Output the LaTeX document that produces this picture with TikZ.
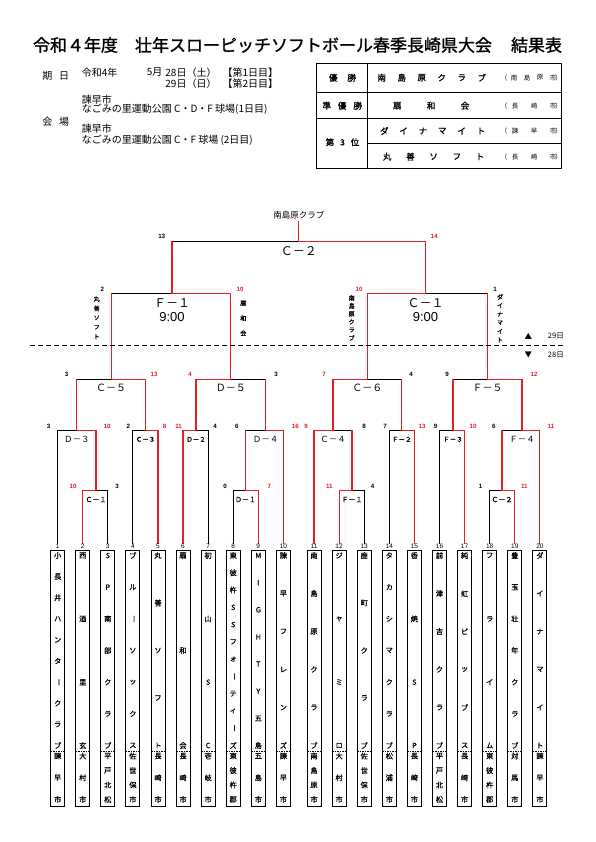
\documentclass[tikz,border=0pt]{standalone}
\usepackage{fontspec}
\setmainfont{Noto Sans CJK JP}
\newfontfamily\lat{Liberation Sans}
\newfontfamily\jpb[FakeBold=1.2]{Noto Sans CJK JP}
\newfontfamily\jpm[FakeBold=0.8]{Noto Sans CJK JP}
\definecolor{rd}{RGB}{226,30,38}
\newcommand\VL{\rotatebox[origin=c]{-90}{ー}}
\newcommand\fs[1]{\fontsize{#1}{#1}\selectfont}
% horizontal spread: name, y, x1, x2, n, list, style
\newcommand\hsp[7]{\foreach \ch [count=\k] in {#6} {\node[#7] (#1\k) at ({#3+(\k-1)*(#4-#3)/(#5-1)},#2) {\ch};}}
% vertical spread: name, x, y1, y2, n, list, style
\newcommand\vsp[7]{\foreach \ch [count=\k] in {#6} {\node[#7] (#1\k) at (#2,{#3+(\k-1)*(#4-#3)/(#5-1)}) {\ch};}}
\newcommand\team[6]{%
  \node[teambox] (b#1) at (#2,678) {};
  \node[tnum] (n#1) at (#2,546.6) {#1};
  \draw[cityline] ({#2-7},751) -- ({#2+7},751);
  \vsp{b#1n}{#2}{555.5}{745.5}{#4}{#3}{nm}
  \vsp{b#1c}{#2}{756}{799.5}{#6}{#5}{nm}
}
\tikzset{
  lose/.style={draw=black, line width=1.1pt, line cap=rect},
  win/.style={draw=rd, line width=1.1pt, line cap=rect, line join=miter},
  sc/.style={font=\lat\bfseries\fs{6.2}, inner sep=0pt},
  scw/.style={sc, text=rd},
  tnum/.style={font=\lat\fs{6.5}, inner sep=0pt},
  nm/.style={font=\jpm\fs{7.2}, inner sep=0pt},
  teambox/.style={draw, line width=1pt, minimum width=14pt, minimum height=256pt, inner sep=0pt},
  cityline/.style={line width=0.5pt, dash pattern=on 1.5pt off 1pt},
  hd/.style={font=\fs{10}, inner sep=0pt},
  tb/.style={font=\jpb\fs{8.5}, inner sep=0pt},
  tc/.style={font=\fs{6.5}, inner sep=0pt},
  sv/.style={font=\jpb\fs{6}, inner sep=0pt},
  lbA/.style={font=\fs{12}, inner sep=0pt},
  lbT/.style={font=\lat\fs{13}, inner sep=0pt},
  lbB/.style={font=\fs{10}, inner sep=0pt},
  lbC/.style={font=\fs{8.5}, inner sep=0pt},
  lbD/.style={font=\jpb\fs{6.5}, inner sep=0pt},
  lbE/.style={font=\jpb\fs{7}, inner sep=0pt},
}
\begin{document}
\begin{tikzpicture}[x=1pt,y=-1pt]
\useasboundingbox (0,0) rectangle (595,842);
\fill[white] (0,0) rectangle (595,842);

% ---------- title ----------
\node[font=\jpb\fs{17}, inner sep=0pt] (title) at (297.5,45) {令和４年度\hspace{17pt}壮年スローピッチソフトボール春季長崎県大会\hspace{19pt}結果表};

% ---------- header left ----------
\node[hd] (ki) at (47.3,75.7) {期};
\node[hd] (bi) at (64,75.7) {日};
\node[hd,anchor=west] (d1a) at (81.7,72.3) {令和4年};
\node[hd,anchor=west] (d1b) at (146.7,72.3) {5月};
\node[hd,anchor=east] (d1c) at (216.7,72.3) {28日（土）};
\node[hd,anchor=east] (d1d) at (278.3,72.3) {【第1日目】};
\node[hd,anchor=east] (d2c) at (216.7,83.3) {29日（日）};
\node[hd,anchor=east] (d2d) at (278.3,83.3) {【第2日目】};
\node[hd,anchor=west] (v1) at (81.7,99.7) {諫早市};
\node[hd,anchor=west] (v2) at (81.7,109.3) {なごみの里運動公園 C・D・F 球場(1日目)};
\node[hd] (kai) at (47.3,121.7) {会};
\node[hd] (jo) at (64,121.7) {場};
\node[hd,anchor=west] (v3) at (81.7,129) {諫早市};
\node[hd,anchor=west] (v4) at (81.7,140) {なごみの里運動公園 C・F 球場 (2日目)};

% ---------- result table ----------
\draw[line width=1.4pt] (316.7,63.3) rectangle (561.7,168.3);
\draw[line width=1pt] (367.3,63.3) -- (367.3,168.3);
\draw[line width=1pt] (316.7,92.7) -- (561.7,92.7);
\draw[line width=1pt] (316.7,118.3) -- (561.7,118.3);
\draw[line width=1pt] (367.3,143.3) -- (561.7,143.3);
\hsp{ra}{77.7}{333.3}{351.7}{2}{優,勝}{tb}
\hsp{rb}{105.7}{326.7}{357.7}{3}{準,優,勝}{tb}
\hsp{rc}{142.3}{330}{355}{3}{第,3,位}{tb}
\hsp{wa}{77.7}{381.7}{481.7}{6}{南,島,原,ク,ラ,ブ}{tb}
\hsp{wb}{105.7}{397.3}{465}{3}{扇,和,会}{tb}
\hsp{wc}{131}{384.3}{481}{6}{ダ,イ,ナ,マ,イ,ト}{tb}
\hsp{wd}{156.7}{387.3}{480}{5}{丸,善,ソ,フ,ト}{tb}
\foreach \yy/\nn in {77.7/a,105.7/b,131/c,156.7/d}{
  \node[tc] (pl\nn) at (504,\yy) {（};
  \node[tc] (pr\nn) at (558.5,\yy) {）};
}
\hsp{ca}{77.7}{514}{553}{4}{南,島,原,市}{tc}
\hsp{cb}{105.7}{515}{553}{3}{長,崎,市}{tc}
\hsp{cc}{131}{515}{553}{3}{諫,早,市}{tc}
\hsp{cd}{156.7}{515}{553}{3}{長,崎,市}{tc}

% ---------- bracket: losing (black) segments ----------
\foreach \xx in {107.8,233.2,364.2,489.7}{\draw[lose] (\xx,543) -- (\xx,490.7);}
\foreach \xx in {57.7,132.9,208.1,389.3,439.5}{\draw[lose] (\xx,543) -- (\xx,430.7);}
\draw[lose] (96,490.7) -- (107.8,490.7);
\draw[lose] (233.2,490.7) -- (245.5,490.7);
\draw[lose] (352,490.7) -- (364.2,490.7);
\draw[lose] (489.7,490.7) -- (502,490.7);
\draw[lose] (57.7,430.7) -- (76.8,430.7);
\draw[lose] (132.9,430.7) -- (145.5,430.7);
\draw[lose] (196,430.7) -- (208.1,430.7);
\draw[lose] (245.5,430.7) -- (265.5,430.7);
\draw[lose] (333,430.7) -- (352,430.7);
\draw[lose] (389.3,430.7) -- (401.8,430.7);
\draw[lose] (439.5,430.7) -- (453,430.7);
\draw[lose] (502,430.7) -- (522,430.7);
\draw[lose] (76.8,379.3) -- (111.2,379.3);
\draw[lose] (230.8,379.3) -- (265.5,379.3);
\draw[lose] (367.4,379.3) -- (401.8,379.3);
\draw[lose] (453,379.3) -- (487.5,379.3);
\draw[lose] (111.2,293.3) -- (172,293.3);
\draw[lose] (425.5,293.3) -- (487.5,293.3);
\draw[lose] (172,241.7) -- (298.75,241.7);

% ---------- bracket: winning (red) paths ----------
\draw[win] (82.8,543) -- (82.8,490.7) -- (96,490.7) -- (96,430.7) -- (76.8,430.7) -- (76.8,379.3);
\draw[win] (158,543) -- (158,430.7) -- (145.5,430.7) -- (145.5,379.3) -- (111.2,379.3) -- (111.2,293.3);
\draw[win] (183,543) -- (183,430.7) -- (196,430.7) -- (196,379.3) -- (230.8,379.3) -- (230.8,293.3) -- (172,293.3) -- (172,241.7);
\draw[win] (258.3,543) -- (258.3,490.7) -- (245.5,490.7) -- (245.5,430.7);
\draw[win] (283.4,543) -- (283.4,430.7) -- (265.5,430.7) -- (265.5,379.3);
\draw[win] (314,543) -- (314,430.7) -- (333,430.7) -- (333,379.3) -- (367.4,379.3) -- (367.4,293.3) -- (425.5,293.3) -- (425.5,241.7) -- (298.75,241.7) -- (298.75,222);
\draw[win] (339.1,543) -- (339.1,490.7) -- (352,490.7) -- (352,430.7);
\draw[win] (414.4,543) -- (414.4,430.7) -- (401.8,430.7) -- (401.8,379.3);
\draw[win] (464.6,543) -- (464.6,430.7) -- (453,430.7) -- (453,379.3);
\draw[win] (514.8,543) -- (514.8,490.7) -- (502,490.7) -- (502,430.7);
\draw[win] (539.9,543) -- (539.9,430.7) -- (522,430.7) -- (522,379.3) -- (487.5,379.3) -- (487.5,293.3);

% ---------- day divider ----------
\coordinate (dl1) at (30,345.7);
\coordinate (dl2) at (565,345.7);
\draw[line width=1.2pt, dash pattern=on 5pt off 3pt] (dl1) -- (dl2);
\node[font=\fs{7.5}, inner sep=0pt] (up) at (528.3,336) {▲};
\node[font=\fs{7.5}, inner sep=0pt, anchor=east] (d29) at (564,336) {29日};
\node[font=\fs{7.5}, inner sep=0pt] (dn) at (528.3,354.5) {▼};
\node[font=\fs{7.5}, inner sep=0pt, anchor=east] (d28) at (564,354.5) {28日};

% ---------- champion ----------
\node[font=\fs{8.5}, inner sep=0pt] (champ) at (298.75,215) {南島原クラブ};

% ---------- match labels ----------
\node[lbA] (gC2) at (298.75,251) {Ｃ－２};
\node[lbA] (gF1) at (172,302.7) {Ｆ－１};
\node[lbT] (tF1) at (172,317.3) {9:00};
\node[lbA] (gC1) at (425.5,302.7) {Ｃ－１};
\node[lbT] (tC1) at (425.5,317.3) {9:00};
\node[lbB] (gC5) at (111.2,388) {Ｃ－５};
\node[lbB] (gD5) at (230.8,388) {Ｄ－５};
\node[lbB] (gC6) at (367.4,388) {Ｃ－６};
\node[lbB] (gF5) at (487.5,388) {Ｆ－５};
\node[lbC] (gD3) at (76.8,439.3) {Ｄ－３};
\node[lbD] (gC3) at (145.5,439.3) {Ｃ－３};
\node[lbD] (gD2) at (196,439.3) {Ｄ－２};
\node[lbC] (gD4) at (265.5,439.3) {Ｄ－４};
\node[lbC] (gC4) at (333,439.3) {Ｃ－４};
\node[lbD] (gF2) at (401.8,439.3) {Ｆ－２};
\node[lbD] (gF3) at (453,439.3) {Ｆ－３};
\node[lbC] (gF4) at (522,439.3) {Ｆ－４};
\node[lbE] (gC1b) at (96,499.5) {Ｃ－１};
\node[lbE] (gD1b) at (245.5,499.5) {Ｄ－１};
\node[lbE] (gF1b) at (352,499.5) {Ｆ－１};
\node[lbE] (gC2b) at (502,499.5) {Ｃ－２};

% ---------- side labels (semi-final entrants) ----------
\vsp{sa}{96.7}{299}{336.7}{5}{丸,善,ソ,フ,ト}{sv}
\vsp{sb}{243.3}{303.3}{333.3}{3}{扇,和,会}{sv}
\vsp{sc}{351.7}{298}{338}{6}{南,島,原,ク,ラ,ブ}{sv}
\vsp{sd}{500}{297}{340}{6}{ダ,イ,ナ,マ,イ,ト}{sv}

% ---------- scores ----------
\node[sc]  (s1)  at (161.7,236.7) {13};
\node[scw] (s2)  at (434,236.7) {14};
\node[sc]  (s3)  at (102.3,289.3) {2};
\node[scw] (s4)  at (240,289.3) {10};
\node[scw] (s5)  at (359,289.3) {10};
\node[sc]  (s6)  at (495,289.3) {1};
\node[sc]  (s7)  at (66.7,374.3) {3};
\node[scw] (s8)  at (154,374.3) {13};
\node[scw] (s9)  at (190,374.3) {4};
\node[sc]  (s10) at (276,374.3) {3};
\node[scw] (s11) at (324,374.3) {7};
\node[sc]  (s12) at (411,374.3) {4};
\node[sc]  (s13) at (447,374.3) {9};
\node[scw] (s14) at (534,374.3) {12};
\node[sc]  (s15) at (48.7,426.7) {3};
\node[scw] (s16) at (107.2,426.7) {10};
\node[sc]  (s17) at (128.4,426.7) {2};
\node[scw] (s18) at (164.7,426.7) {8};
\node[scw] (s19) at (178.6,426.7) {11};
\node[sc]  (s20) at (215,426.7) {4};
\node[sc]  (s21) at (236.8,426.7) {6};
\node[scw] (s22) at (295.3,426.7) {16};
\node[scw] (s23) at (306,426.7) {9};
\node[sc]  (s24) at (364,426.7) {8};
\node[sc]  (s25) at (385,426.7) {7};
\node[scw] (s26) at (422,426.7) {13};
\node[sc]  (s27) at (435.6,426.7) {9};
\node[scw] (s28) at (473,426.7) {10};
\node[sc]  (s29) at (493.8,426.7) {6};
\node[scw] (s30) at (551,426.7) {11};
\node[scw] (s31) at (73,486) {10};
\node[sc]  (s32) at (117,486) {3};
\node[sc]  (s33) at (225,486) {0};
\node[scw] (s34) at (269.3,486) {7};
\node[scw] (s35) at (329.3,486) {11};
\node[sc]  (s36) at (372.7,486) {4};
\node[sc]  (s37) at (480.7,486) {1};
\node[scw] (s38) at (524.3,486) {11};

% ---------- team boxes ----------
\team{1}{57.7}{小,長,井,ハ,ン,タ,\VL,ク,ラ,ブ}{10}{諫,早,市}{3}
\team{2}{82.8}{西,酒,里,玄}{4}{大,村,市}{3}
\team{3}{107.8}{S,P,南,部,ク,ラ,ブ}{7}{平,戸,北,松}{4}
\team{4}{132.9}{ブ,ル,\VL,ソ,ッ,ク,ス}{7}{佐,世,保,市}{4}
\team{5}{158.0}{丸,善,ソ,フ,ト}{5}{長,崎,市}{3}
\team{6}{183.0}{扇,和,会}{3}{長,崎,市}{3}
\team{7}{208.1}{初,山,S,C}{4}{壱,岐,市}{3}
\team{8}{233.2}{東,彼,杵,S,S,フ,ォ,\VL,テ,ィ,\VL,ズ}{12}{東,彼,杵,郡}{4}
\team{9}{258.3}{M,I,G,H,T,Y,五,島}{8}{五,島,市}{3}
\team{10}{283.4}{諫,早,フ,レ,ン,ズ}{6}{諫,早,市}{3}
\team{11}{314.0}{南,島,原,ク,ラ,ブ}{6}{南,島,原,市}{4}
\team{12}{339.1}{ジ,ャ,ミ,ロ}{4}{大,村,市}{3}
\team{13}{364.2}{鹿,町,ク,ラ,ブ}{5}{佐,世,保,市}{4}
\team{14}{389.3}{タ,カ,シ,マ,ク,ラ,ブ}{7}{松,浦,市}{3}
\team{15}{414.4}{香,焼,S,P}{4}{長,崎,市}{3}
\team{16}{439.5}{前,津,吉,ク,ラ,ブ}{6}{平,戸,北,松}{4}
\team{17}{464.6}{純,虹,ビ,ッ,ブ,ス}{6}{長,崎,市}{3}
\team{18}{489.7}{フ,ラ,イ,ム}{4}{東,彼,杵,郡}{4}
\team{19}{514.8}{豊,玉,壮,年,ク,ラ,ブ}{7}{対,馬,市}{3}
\team{20}{539.9}{ダ,イ,ナ,マ,イ,ト}{6}{諫,早,市}{3}
\end{tikzpicture}
\end{document}
